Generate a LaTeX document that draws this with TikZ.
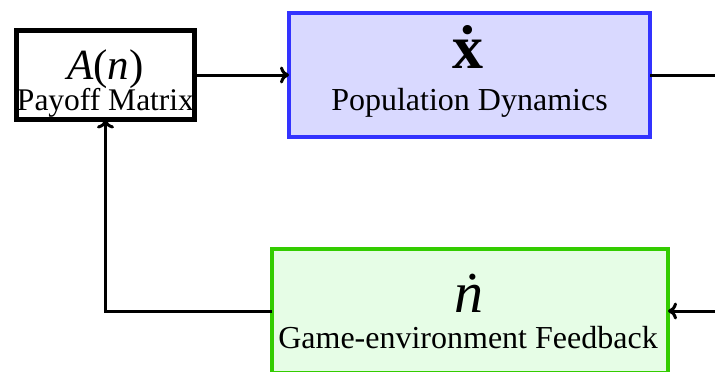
\documentclass[tikz,border=0pt]{standalone}
\usepackage{fontspec}
\setmainfont{Liberation Serif}
\usetikzlibrary{arrows.meta}
\definecolor{popfill}{RGB}{217,217,255}
\definecolor{popdraw}{RGB}{51,51,255}
\definecolor{fbfill}{RGB}{230,253,230}
\definecolor{fbdraw}{RGB}{51,204,0}
\newcommand{\dotover}[1]{\ooalign{#1\cr\hidewidth ˙\hidewidth\cr}}
\begin{document}
\begin{tikzpicture}[x=1pt,y=-1pt,
  boxbase/.style={inner sep=0pt,outer sep=0pt},
  payoffbox/.style={boxbase,draw=black,line width=4.5pt,fill=white,minimum width=178pt,minimum height=89pt},
  popbox/.style={boxbase,draw=popdraw,fill=popfill,line width=4pt,minimum width=361pt,minimum height=124pt},
  fbbox/.style={boxbase,draw=fbdraw,fill=fbfill,line width=4pt,minimum width=396pt,minimum height=124pt},
  lbl/.style={anchor=base,inner sep=0pt,font=\fontsize{32}{38}\selectfont},
  conn/.style={line width=3pt,-{Computer Modern Rightarrow[length=9pt,width=17pt]}}]
\useasboundingbox (0,0) rectangle (715,372);
\clip (0,0) rectangle (715,372);
\fill[white] (0,0) rectangle (715,372);
% boxes
\node[payoffbox] (pay) at (105.5,75) {};
\node[popbox] (pop) at (469.5,75) {};
\node[fbbox] (fb) at (470,311) {};
% texts
\node[anchor=base,inner sep=0pt,font=\fontsize{43}{50}\selectfont] (payA) at (105.5,79) {\textit{A}(\textit{n})};
\node[lbl,font=\fontsize{31.5}{38}\selectfont] (payT) at (105.5,110) {Payoff Matrix};
\node[anchor=base,inner sep=0pt,font=\fontsize{62}{70}\selectfont\bfseries] (popX) at (468,68) {\dotover{x}};
\node[lbl] (popT) at (469.5,110) {Population Dynamics};
\node[anchor=base,inner sep=0pt,font=\fontsize{58}{66}\selectfont\itshape] (fbN) at (469,312) {\dotover{n}};
\node[lbl] (fbT) at (468,348) {Game-environment Feedback};
% connectors
\coordinate (turn) at (722,75);
\draw[conn] (pay.east) -- (pop.west);
\draw[conn] (pop.east) -- (turn) |- (fb.east);
\draw[conn] (fb.west) -| (pay.south);
\end{tikzpicture}
\end{document}
